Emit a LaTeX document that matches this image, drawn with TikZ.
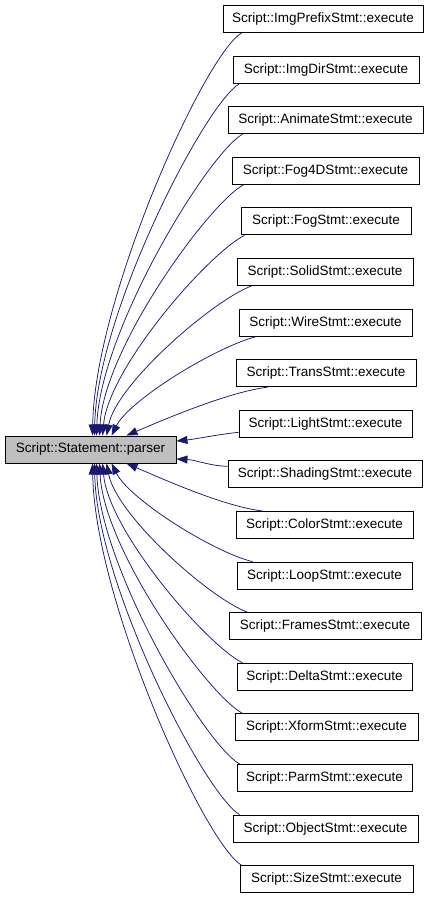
\documentclass[tikz,border=0pt]{standalone}
\usepackage{fontspec}
\setmainfont{Liberation Sans}
\usetikzlibrary{arrows.meta,calc}
\definecolor{edgeblue}{RGB}{25,25,112}
\definecolor{nodegray}{RGB}{191,191,191}
\begin{document}
\begin{tikzpicture}[x=1pt,y=-1pt,
  box/.style={draw=black,line width=0.9pt,minimum height=27pt,inner sep=0pt,
    font=\fontsize{13.5}{16}\selectfont,anchor=center},
  edge/.style={draw=edgeblue,line width=0.75pt,{Triangle[length=11pt,width=8pt]}-}]
\useasboundingbox (0,0) rectangle (432,899);
\node[box,fill=nodegray,minimum width=171pt] (P) at (90.5,449.5) {Script::Statement::parser};
\node[box,minimum width=200pt] (b1) at (323,19) {Script::ImgPrefixStmt::execute};
\node[box,minimum width=186pt] (b2) at (326,69.6) {Script::ImgDirStmt::execute};
\node[box,minimum width=195pt] (b3) at (325.5,120.2) {Script::AnimateStmt::execute};
\node[box,minimum width=187pt] (b4) at (325.5,170.8) {Script::Fog4DStmt::execute};
\node[box,minimum width=170pt] (b5) at (326,221.4) {Script::FogStmt::execute};
\node[box,minimum width=176pt] (b6) at (325,272) {Script::SolidStmt::execute};
\node[box,minimum width=173pt] (b7) at (325.5,322.6) {Script::WireStmt::execute};
\node[box,minimum width=180pt] (b8) at (326,373.2) {Script::TransStmt::execute};
\node[box,minimum width=173pt] (b9) at (325.5,423.8) {Script::LightStmt::execute};
\node[box,minimum width=194pt] (b10) at (325,474.4) {Script::ShadingStmt::execute};
\node[box,minimum width=177pt] (b11) at (324.5,525) {Script::ColorStmt::execute};
\node[box,minimum width=175pt] (b12) at (324.5,575.6) {Script::LoopStmt::execute};
\node[box,minimum width=192pt] (b13) at (325,626.2) {Script::FramesStmt::execute};
\node[box,minimum width=175pt] (b14) at (324.5,676.8) {Script::DeltaStmt::execute};
\node[box,minimum width=183pt] (b15) at (326.5,727.4) {Script::XformStmt::execute};
\node[box,minimum width=175pt] (b16) at (324.5,778) {Script::ParmStmt::execute};
\node[box,minimum width=185pt] (b17) at (325.5,828.6) {Script::ObjectStmt::execute};
\node[box,minimum width=173pt] (b18) at (326.5,879.2) {Script::SizeStmt::execute};
% upper edges
\draw[edge] ($(P.north west)+(88,0)$) .. controls +(2,-137) and +(-37,22) .. ($(b1.south west)+(19,0)$);
\draw[edge] ($(P.north west)+(90,0)$) .. controls +(2,-120) and +(-36,22) .. ($(b2.south west)+(7,0)$);
\draw[edge] ($(P.north west)+(92,0)$) .. controls +(3,-103) and +(-36,21) .. ($(b3.south west)+(15,0)$);
\draw[edge] ($(P.north west)+(95,0)$) .. controls +(4,-86) and +(-36,20) .. ($(b4.south west)+(12,0)$);
\draw[edge] ($(P.north west)+(98,0)$) .. controls +(6,-68) and +(-36,18) .. ($(b5.south west)+(4,0)$);
\draw[edge] ($(P.north west)+(102,0)$) .. controls +(10,-52) and +(-38,14) .. ($(b6.south west)+(15,0)$);
\draw[edge] ($(P.north west)+(107,0)$) .. controls +(18,-36) and +(-40,10) .. ($(b7.south west)+(18,0)$);
\draw[edge] ($(P.north west)+(122,0)$) .. controls +(35,-15) and +(-40,5) .. ($(b8.south west)+(32,0)$);
% middle edges
\draw[edge] ($(P.east)+(0,-8.5)$) .. controls +(20,-2) and +(-20,2) .. ($(b9.west)+(0,8.5)$);
\draw[edge] ($(P.east)+(0,9.5)$) .. controls +(20,1) and +(-20,-1) .. ($(b10.west)+(0,-8)$);
% lower edges
\draw[edge] ($(P.south west)+(122,0)$) .. controls +(35,15) and +(-40,-5) .. ($(b11.north west)+(27,0)$);
\draw[edge] ($(P.south west)+(107,0)$) .. controls +(18,36) and +(-40,-10) .. ($(b12.north west)+(16,0)$);
\draw[edge] ($(P.south west)+(102,0)$) .. controls +(10,52) and +(-38,-14) .. ($(b13.north west)+(19,0)$);
\draw[edge] ($(P.south west)+(98,0)$) .. controls +(6,68) and +(-36,-18) .. ($(b14.north west)+(6,0)$);
\draw[edge] ($(P.south west)+(95,0)$) .. controls +(4,86) and +(-36,-20) .. ($(b15.north west)+(8,0)$);
\draw[edge] ($(P.south west)+(92,0)$) .. controls +(3,103) and +(-36,-21) .. ($(b16.north west)+(3,0)$);
\draw[edge] ($(P.south west)+(90,0)$) .. controls +(2,120) and +(-36,-22) .. ($(b17.north west)+(7,0)$);
\draw[edge] ($(P.south west)+(88,0)$) .. controls +(2,137) and +(-37,-22) .. ($(b18.north west)+(2,0)$);
\end{tikzpicture}
\end{document}
